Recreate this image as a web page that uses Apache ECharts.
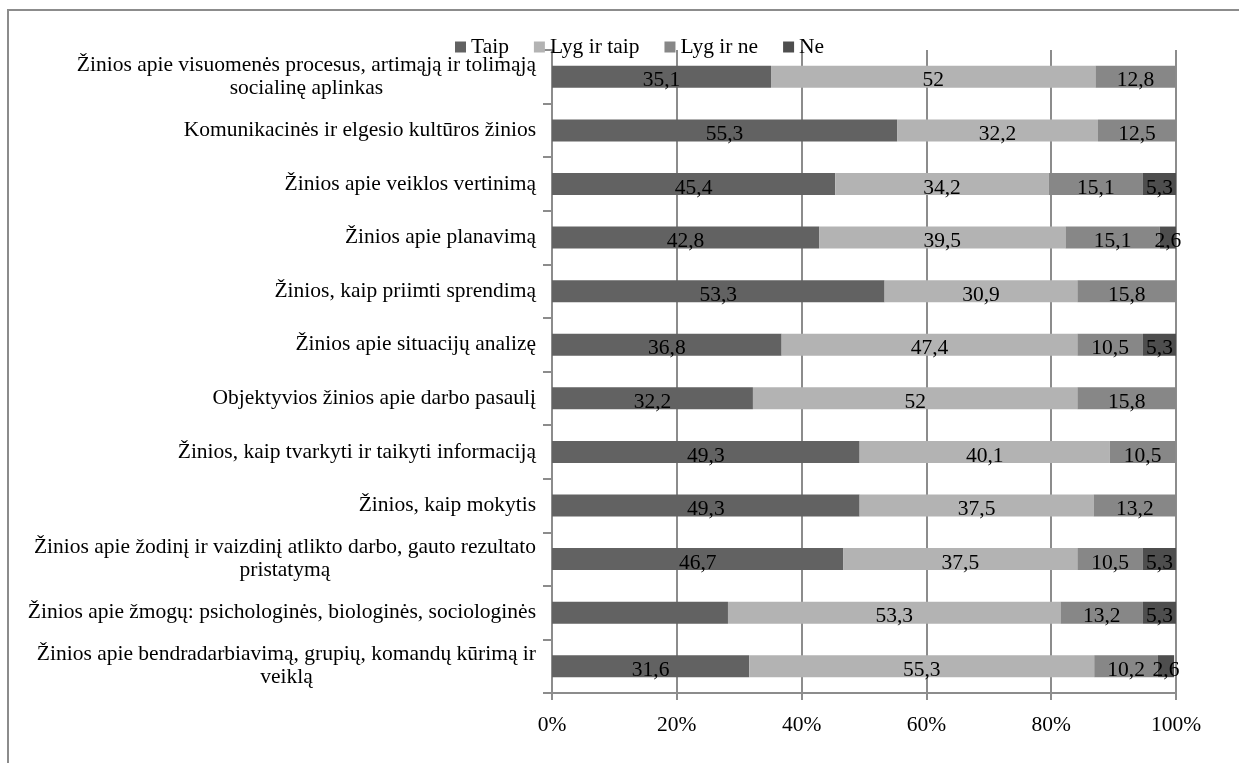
<!DOCTYPE html>
<html>
<head>
<meta charset="utf-8">
<script src="https://cdn.jsdelivr.net/npm/echarts@6/dist/echarts.min.js"></script>
<style>
  html, body { margin: 0; padding: 0; background: #ffffff; }
  #chart { width: 1239px; height: 763px; }
</style>
</head>
<body>
<div id="chart"></div>
<script>
// Knowledge areas (top to bottom)
const categories = [
  'Žinios apie visuomenės procesus, artimąją ir tolimąją\nsocialinę aplinkas',
  'Komunikacinės ir elgesio kultūros žinios',
  'Žinios apie veiklos vertinimą',
  'Žinios apie planavimą',
  'Žinios, kaip priimti sprendimą',
  'Žinios apie situacijų analizę',
  'Objektyvios žinios apie darbo pasaulį',
  'Žinios, kaip tvarkyti ir taikyti informaciją',
  'Žinios, kaip mokytis',
  'Žinios apie žodinį ir vaizdinį atlikto darbo, gauto rezultato\npristatymą',
  'Žinios apie žmogų: psichologinės, biologinės, sociologinės',
  'Žinios apie bendradarbiavimą, grupių, komandų kūrimą ir\nveiklą'
];

// Answer shares, %
const seriesNames = ['Taip', 'Lyg ir taip', 'Lyg ir ne', 'Ne'];
const taip      = [35.1, 55.3, 45.4, 42.8, 53.3, 36.8, 32.2, 49.3, 49.3, 46.7, 28.2, 31.6];
const lygIrTaip = [52, 32.2, 34.2, 39.5, 30.9, 47.4, 52, 40.1, 37.5, 37.5, 53.3, 55.3];
const lygIrNe   = [12.8, 12.5, 15.1, 15.1, 15.8, 10.5, 15.8, 10.5, 13.2, 10.5, 13.2, 10.2];
const ne        = [null, null, 5.3, 2.6, null, 5.3, null, null, null, 5.3, 5.3, 2.6];
// "Taip" bar whose value has no printed label
const taipUnlabeled = [10];

const xTicks = [0, 20, 40, 60, 80, 100];

const colors = ['#626262', '#b3b3b3', '#878787', '#4e4e4e'];
const FONT = '"Liberation Serif", "Times New Roman", serif';
const FS = 21.5;
const GRID = '#8c8c8c';

const chart = echarts.init(document.getElementById('chart'), null, { renderer: 'canvas' });

function fmtNum(v) { return String(v).replace('.', ','); }

function makeSeries(name, values, idx) {
  return {
    name: name,
    type: 'bar',
    stack: 'total',
    barWidth: 22,
    itemStyle: { color: colors[idx] },
    label: {
      show: true,
      position: 'inside',
      offset: [0, 4],
      color: '#000000',
      fontFamily: FONT,
      fontSize: FS,
      formatter: p => fmtNum(p.value)
    },
    data: values.map((v, i) => {
      if (v == null) return null;
      if (idx === 0 && taipUnlabeled.indexOf(i) >= 0) return { value: v, label: { show: false } };
      return v;
    })
  };
}

const option = {
  backgroundColor: '#ffffff',
  animation: false,
  color: colors,
  graphic: [{
    type: 'rect',
    shape: { x: 8, y: 10, width: 1280, height: 800 },
    style: { fill: 'none', stroke: GRID, lineWidth: 2 },
    silent: true,
    z: -10
  }],
  legend: {
    data: seriesNames,
    left: 450,
    top: 31,
    icon: 'rect',
    itemWidth: 11,
    itemHeight: 11,
    itemGap: 25,
    textStyle: { fontFamily: FONT, fontSize: FS, color: '#000000' }
  },
  grid: { left: 552, right: 63, top: 50, bottom: 70, containLabel: false },
  xAxis: {
    type: 'value',
    min: xTicks[0],
    max: xTicks[xTicks.length - 1],
    interval: 20,
    axisLine: { show: true, lineStyle: { color: GRID, width: 2 } },
    axisTick: { show: true, length: 7, lineStyle: { color: GRID, width: 2 } },
    splitLine: { show: true, lineStyle: { color: GRID, width: 2 } },
    axisLabel: {
      formatter: '{value}%',
      fontFamily: FONT,
      fontSize: FS,
      color: '#000000',
      margin: 21
    }
  },
  yAxis: {
    type: 'category',
    inverse: true,
    data: categories,
    axisLine: { show: true, lineStyle: { color: GRID, width: 2 } },
    axisTick: { show: true, length: 9, inside: false, lineStyle: { color: GRID, width: 2 } },
    axisLabel: {
      interval: 0,
      margin: 16,
      align: 'right',
      fontFamily: FONT,
      fontSize: FS,
      color: '#000000',
      lineHeight: 23,
      formatter: v => v.split('\n').map(l => '{c|' + l + '}').join('\n'),
      rich: {
        c: { align: 'center', fontFamily: FONT, fontSize: FS, color: '#000000', lineHeight: 23 }
      }
    }
  },
  series: [
    makeSeries(seriesNames[0], taip, 0),
    makeSeries(seriesNames[1], lygIrTaip, 1),
    makeSeries(seriesNames[2], lygIrNe, 2),
    makeSeries(seriesNames[3], ne, 3)
  ]
};

chart.setOption(option);
</script>
</body>
</html>
